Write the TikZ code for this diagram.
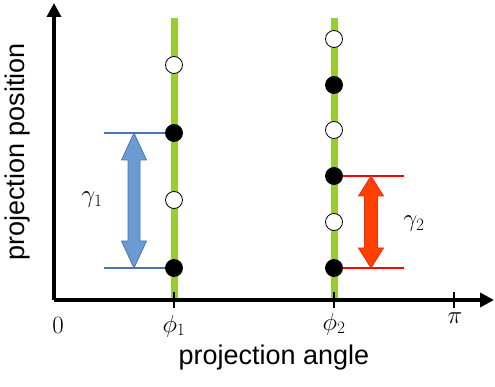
\documentclass[tikz,border=0pt]{standalone}
\usepackage{fontspec}
\setsansfont{Liberation Sans}
\usepackage{xcolor}
\usetikzlibrary{arrows.meta,calc}

\definecolor{stripgreen}{HTML}{99CC33}
\definecolor{gapblue}{HTML}{6C9BD2}
\definecolor{gapblueline}{HTML}{4A74B2}
\definecolor{gapred}{HTML}{FF4000}
\definecolor{gapredline}{HTML}{E8301A}

% double-headed gap arrow: style, top tip, bottom tip, half head, half shaft, head length
\newcommand\gaparrow[6]{%
  \draw[#1] (#2) -- ($(#2)+(#4,#6)$) -- ($(#2)+(#5,#6)$) -- ($(#3)+(#5,-#6)$)
    -- ($(#3)+(#4,-#6)$) -- (#3) -- ($(#3)+(-#4,-#6)$) -- ($(#3)+(-#5,-#6)$)
    -- ($(#2)+(-#5,#6)$) -- ($(#2)+(-#4,#6)$) -- cycle;}

\begin{document}
\begin{tikzpicture}[x=1pt, y=-1pt,
  axis/.style={line width=4pt, -{Triangle[length=14pt, width=14pt]}},
  tickmark/.style={line width=2pt},
  strip/.style={line width=7pt, stripgreen},
  hit/.style={circle, draw, fill=black, minimum size=17pt, inner sep=0pt, line width=0.8pt},
  miss/.style={hit, fill=white},
  sflbl/.style={font=\sffamily\fontsize{27}{31}\selectfont},
  mathlbl/.style={font=\fontsize{25}{29}\selectfont, inner sep=1pt}]
\useasboundingbox (0,0) rectangle (495,387);

% green projection strips
\coordinate (s1top) at (174,18); \coordinate (s1bot) at (174,300);
\coordinate (s2top) at (334,18); \coordinate (s2bot) at (334,300);
\draw[strip] (s1top) -- (s1bot);
\draw[strip] (s2top) -- (s2bot);

% axes
\coordinate (origin) at (54,300);
\coordinate (xend) at (494,300);
\coordinate (yend) at (54,3);
\draw[axis] (origin) -- (xend);
\draw[axis] (origin) -- (yend);
\foreach \tx/\tn in {174/t1, 334/t2, 454/tpi}
  \draw[tickmark] (\tx,292) coordinate (\tn) -- (\tx,308);

\node[mathlbl] (zero) at (58,325) {$0$};
\node[mathlbl] (phi1) at (174,326) {$\phi_1$};
\node[mathlbl] (phi2) at (334,324) {$\phi_2$};
\node[mathlbl] (pi) at (455,318) {$\pi$};
\node[sflbl] (xlab) at (274,358) {projection angle};
\node[sflbl, rotate=90] (ylab) at (18,152) {projection position};

% samples at phi_1
\node[miss] (p1a) at (174,65) {};
\node[hit]  (p1b) at (174,133) {};
\node[miss] (p1c) at (174,200) {};
\node[hit]  (p1d) at (174,268) {};

% samples at phi_2
\node[miss] (p2a) at (334,39) {};
\node[hit]  (p2b) at (334,85) {};
\node[miss] (p2c) at (334,130) {};
\node[hit]  (p2d) at (334,176) {};
\node[miss] (p2e) at (334,222) {};
\node[hit]  (p2f) at (334,268) {};

% gap gamma_1
\coordinate (g1a) at (104,133); \coordinate (g1b) at (104,268);
\draw[gapblueline, line width=2pt] (g1a) -- (p1b);
\draw[gapblueline, line width=2pt] (g1b) -- (p1d);
\coordinate (g1top) at (134,133); \coordinate (g1bot) at (134,268);
\gaparrow{fill=gapblue, draw=gapblueline, line width=0.8pt}{g1top}{g1bot}{12.5}{6}{27}
\node[mathlbl] (gam1) at (92,200) {$\gamma_1$};

% gap gamma_2
\coordinate (g2a) at (404,176); \coordinate (g2b) at (404,268);
\draw[red, line width=2pt] (p2d) -- (g2a);
\draw[red, line width=2pt] (p2f) -- (g2b);
\coordinate (g2top) at (371,176); \coordinate (g2bot) at (371,268);
\gaparrow{fill=gapred, draw=gapredline, line width=0.8pt}{g2top}{g2bot}{12.5}{6.5}{20}
\node[mathlbl] (gam2) at (414,224) {$\gamma_2$};
\end{tikzpicture}
\end{document}
